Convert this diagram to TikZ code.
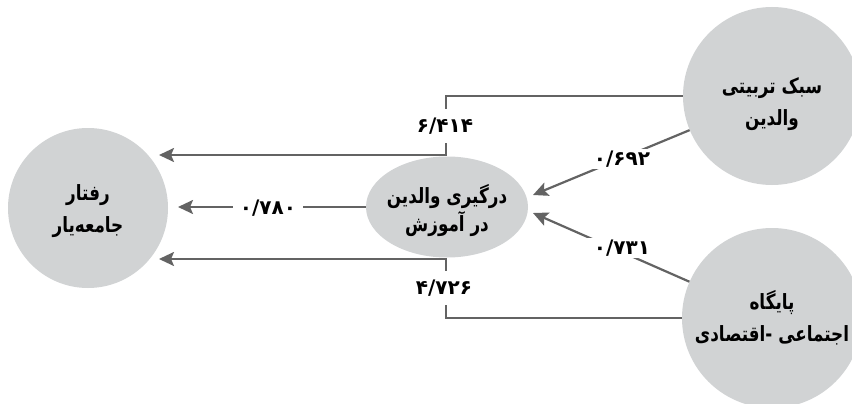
\documentclass[tikz,border=0pt]{standalone}
\usepackage{fontspec}
\usetikzlibrary{arrows.meta,shapes.geometric}
\TeXXeTstate=1
\newfontfamily\arabicfont[Script=Arabic]{DejaVu Sans}
\newfontfamily\arabicnarrow[Script=Arabic,FakeStretch=0.8]{DejaVu Sans}
\definecolor{circfill}{HTML}{D1D3D4}
\definecolor{linecol}{HTML}{636363}
\begin{document}
\begin{tikzpicture}[x=1pt,y=-1pt,
  circ/.style={circle, fill=circfill, inner sep=0pt},
  ell/.style={ellipse, fill=circfill, inner sep=0pt},
  txt/.style={align=center, inner sep=0pt,
    font=\arabicnarrow\bfseries\fontsize{21}{#1}\selectfont},
  txt/.default=32,
  conn/.style={draw=linecol, line width=2.2pt,
    -{Stealth[length=15pt,width=14pt,inset=3pt]}},
  lab/.style={fill=white, inner xsep=7pt, inner ysep=9pt,
    font=\arabicfont\bfseries\fontsize{20}{22}\selectfont}]
\useasboundingbox (0,0) rectangle (852,404);
\clip (0,0) rectangle (852,404);
% nodes
\node[circ, minimum size=160pt,
  label={[txt, yshift=-3pt]center:{\beginR رفتار\endR\\\beginR جامعه‌یار\endR}}]
  (behav) at (88,208) {};
\node[ell, minimum width=162pt, minimum height=101pt,
  label={[txt=28, yshift=-4pt]center:{\beginR درگیری والدین\endR\\\beginR در آموزش\endR}}]
  (inv) at (447,207) {};
\node[circ, minimum size=178pt,
  label={[txt, yshift=-8pt]center:{\beginR سبک تربیتی\endR\\\beginR والدین\endR}}]
  (style) at (772,96) {};
\node[circ, minimum size=180pt,
  label={[txt]center:{\beginR پایگاه\endR\\\beginR اجتماعی -اقتصادی\endR}}]
  (ses) at (772,318) {};
% connector ends
\coordinate (tTop) at (159,155);
\coordinate (tMid) at (178,207);
\coordinate (tBot) at (159,259);
\coordinate (tA) at (533,195);
\coordinate (tB) at (533,213);
% connectors
\draw[conn] (style.west) -- (446,96) -- (446,155) -- (tTop);
\draw[conn] (ses.west) -- (446,318) -- (446,259) -- (tBot);
\draw[conn] (inv.west) -- (tMid);
\draw[conn] (style) -- (tA);
\draw[conn] (ses) -- (tB);
% labels
\node[lab] (l1) at (445,126) {۶/۴۱۴};
\node[lab] (l2) at (444,288) {۴/۷۲۶};
\node[lab] (l3) at (268,208) {۰/۷۸۰};
\node[lab, inner ysep=2pt] (l4) at (622,159) {۰/۶۹۲};
\node[lab, inner ysep=2pt] (l5) at (622,248) {۰/۷۳۱};
\end{tikzpicture}
\end{document}
